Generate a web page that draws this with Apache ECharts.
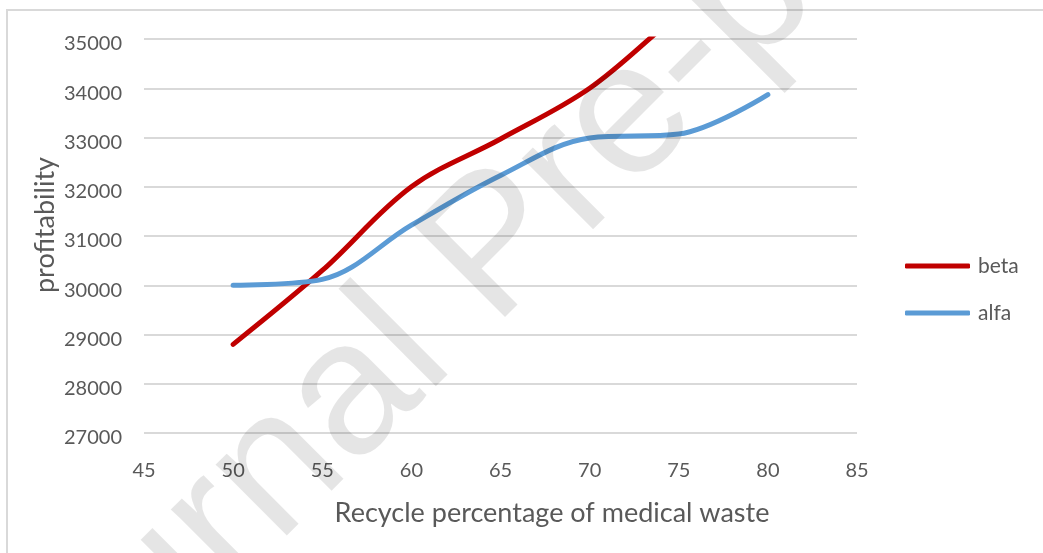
<!DOCTYPE html>
<html>
<head>
<meta charset="utf-8">
<script src="https://cdn.jsdelivr.net/npm/echarts@6/dist/echarts.min.js"></script>
<style>
  html, body { margin: 0; padding: 0; background: #ffffff; }
  #chart { width: 1043px; height: 553px; }
</style>
</head>
<body>
<div id="chart"></div>
<script>
// Recycle percentage (x) and profitability for the two scenarios
const recyclePercent = [50, 55, 60, 65, 70, 75, 80];
const betaValues = [28800, 30300, 32000, 32970, 34000, 35500, 36800];
const alfaValues = [30000, 30120, 31220, 32230, 32990, 33070, 33870];

const xTicks = { min: 45, max: 85, step: 5 };
const yTicks = { min: 27000, max: 35000, step: 1000 };

const xTitle = 'Recycle percentage of medical waste';
const yTitle = 'profitability';
const watermarkText = 'Journal Pre-proof';

const FONT = 'Lato, "Open Sans", sans-serif';
const TEXT_COLOR = '#595959';
const GRID_COLOR = '#d9d9d9';

const toPairs = (xs, ys) => xs.map((x, i) => [x, ys[i]]);

const chart = echarts.init(document.getElementById('chart'), null, { renderer: 'canvas' });

chart.setOption({
  backgroundColor: '#ffffff',
  animation: false,
  grid: { left: 144, right: 186, top: 39, bottom: 120, containLabel: false },
  xAxis: {
    type: 'value',
    min: xTicks.min,
    max: xTicks.max,
    interval: xTicks.step,
    axisLine: { show: false },
    axisTick: { show: false },
    splitLine: { show: false },
    axisLabel: { color: TEXT_COLOR, fontFamily: FONT, fontSize: 20, margin: 28 }
  },
  yAxis: {
    type: 'value',
    min: yTicks.min,
    max: yTicks.max,
    interval: yTicks.step,
    axisLine: { show: false },
    axisTick: { show: false },
    splitLine: { show: true, lineStyle: { color: GRID_COLOR, width: 2 } },
    axisLabel: {
      color: TEXT_COLOR, fontFamily: FONT, fontSize: 20, margin: 22,
      verticalAlign: 'top', lineHeight: 10,
      formatter: (v) => String(v)
    }
  },
  legend: {
    orient: 'vertical',
    left: 905,
    top: 255,
    padding: 0,
    itemWidth: 65,
    itemHeight: 5,
    itemGap: 25,
    icon: 'roundRect',
    textStyle: { color: TEXT_COLOR, fontFamily: FONT, fontSize: 21, lineHeight: 22, padding: [0, 0, 0, 3] },
    data: ['beta', 'alfa']
  },
  series: [
    {
      name: 'beta',
      type: 'line',
      smooth: 0.35,
      showSymbol: false,
      clip: true,
      color: '#c00000',
      lineStyle: { width: 5, color: '#c00000', cap: 'round' },
      data: toPairs(recyclePercent, betaValues)
    },
    {
      name: 'alfa',
      type: 'line',
      smooth: 0.35,
      showSymbol: false,
      clip: true,
      color: '#5b9bd5',
      lineStyle: { width: 5, color: '#5b9bd5', cap: 'round' },
      data: toPairs(recyclePercent, alfaValues)
    }
  ],
  graphic: [
    {
      // chart-area frame
      type: 'rect',
      silent: true,
      shape: { x: 7, y: 10, width: 1200, height: 700 },
      style: { fill: 'none', stroke: GRID_COLOR, lineWidth: 2 },
      z: 0
    },
    {
      type: 'text',
      silent: true,
      x: 552, y: 513,
      style: {
        text: xTitle, fill: TEXT_COLOR, font: '27px ' + FONT,
        align: 'center', verticalAlign: 'middle'
      }
    },
    {
      type: 'text',
      silent: true,
      x: 45, y: 225,
      rotation: Math.PI / 2,
      style: {
        text: yTitle, fill: TEXT_COLOR, font: '27px ' + FONT,
        align: 'center', verticalAlign: 'middle'
      }
    },
    {
      // diagonal stamp laid over the plot; local y = 0 is the text baseline
      type: 'text',
      silent: true,
      x: 8, y: 798,
      rotation: Math.PI / 4,
      z: 100,
      style: {
        text: watermarkText,
        x: 0, y: -41,
        fill: 'rgba(0,0,0,0.1)',
        font: '190px "Liberation Sans", Arial, sans-serif',
        align: 'left', verticalAlign: 'middle'
      }
    }
  ]
});
</script>
</body>
</html>
